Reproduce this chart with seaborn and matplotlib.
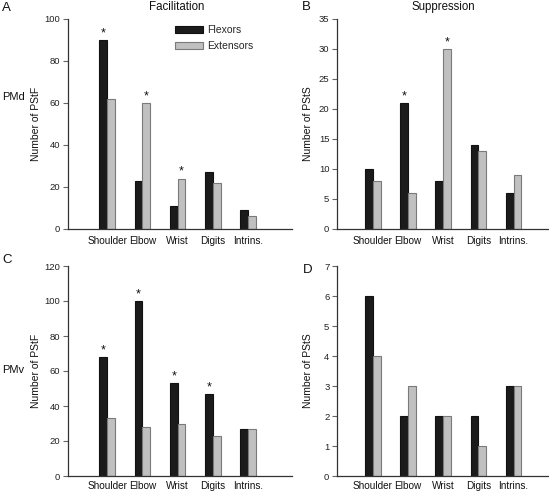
import matplotlib
matplotlib.use("Agg")
import matplotlib.pyplot as plt
import seaborn as sns
import pandas as pd
from matplotlib.patches import Patch

sns.set_style("ticks")
plt.rcParams['font.family'] = ['Liberation Sans', 'DejaVu Sans']

categories = ["Shoulder", "Elbow", "Wrist", "Digits", "Intrins."]
groups = ["Flexors", "Extensors"]

# Panel A: PMd facilitation
a_flex = [90, 23, 11, 27, 9]
a_ext = [62, 60, 24, 22, 6]
a_star_flex = [1, 0, 0, 0, 0]
a_star_ext = [0, 1, 1, 0, 0]
# Panel B: PMd suppression
b_flex = [10, 21, 8, 14, 6]
b_ext = [8, 6, 30, 13, 9]
b_star_flex = [0, 1, 0, 0, 0]
b_star_ext = [0, 0, 1, 0, 0]
# Panel C: PMv facilitation
c_flex = [68, 100, 53, 47, 27]
c_ext = [33, 28, 30, 23, 27]
c_star_flex = [1, 1, 1, 1, 0]
c_star_ext = [0, 0, 0, 0, 0]
# Panel D: PMv suppression
d_flex = [6, 2, 2, 2, 3]
d_ext = [4, 3, 2, 1, 3]
d_star_flex = [0, 0, 0, 0, 0]
d_star_ext = [0, 0, 0, 0, 0]

y_ticks_A = [0, 20, 40, 60, 80, 100]
y_ticks_B = [0, 5, 10, 15, 20, 25, 30, 35]
y_ticks_C = [0, 20, 40, 60, 80, 100, 120]
y_ticks_D = [0, 1, 2, 3, 4, 5, 6, 7]

flex_color = "#1b1b1b"
ext_color = "#c0c0c0"
flex_edge = "#111111"
ext_edge = "#7a7a7a"

W, H = 549, 493
fig = plt.figure(figsize=(W / 100, H / 100), dpi=100)

def axes_px(left, right, top, bottom):
    return fig.add_axes([left / W, 1 - bottom / H, (right - left) / W, (bottom - top) / H])

axA = axes_px(68, 292, 19, 229)
axB = axes_px(337, 548, 19, 229)
axC = axes_px(68, 292, 266, 476)
axD = axes_px(337, 548, 266, 476)

panels = [
    (axA, a_flex, a_ext, a_star_flex, a_star_ext, y_ticks_A, "Number of PStF", (-1.106, 5.24), 5),
    (axB, b_flex, b_ext, b_star_flex, b_star_ext, y_ticks_B, "Number of PStS", (-1.02, 4.98), 5),
    (axC, c_flex, c_ext, c_star_flex, c_star_ext, y_ticks_C, "Number of PStF", (-1.106, 5.24), 3.5),
    (axD, d_flex, d_ext, d_star_flex, d_star_ext, y_ticks_D, "Number of PStS", (-1.02, 4.98), 3.5),
]

for ax, flex, ext, sf, se, yt, ylab, xl, xpad in panels:
    df = pd.DataFrame({
        "category": categories * 2,
        "muscle": [groups[0]] * len(categories) + [groups[1]] * len(categories),
        "value": flex + ext,
    })
    sns.barplot(data=df, x="category", y="value", hue="muscle", order=categories,
                hue_order=groups, palette=[flex_color, ext_color], width=0.44,
                ax=ax, legend=False, saturation=1, errorbar=None)
    for cont, ec, stars in zip(ax.containers, [flex_edge, ext_edge], [sf, se]):
        for bar, s in zip(cont.patches, stars):
            bar.set_edgecolor(ec)
            bar.set_linewidth(0.8)
            if s:
                ax.annotate("*", (bar.get_x() + bar.get_width() / 2, bar.get_height()),
                            xytext=(0, 0.5), textcoords="offset points",
                            ha="center", va="bottom", fontsize=9, color="#111111")
    ax.set_xlim(*xl)
    ax.set_ylim(yt[0], yt[-1])
    ax.set_yticks(yt)
    ax.set_xlabel("")
    ax.set_ylabel(ylab, fontsize=7.5, color="#111111")
    ax.tick_params(axis="y", direction="out", length=3.5, width=0.8, color="#666666",
                   labelsize=6.8, pad=2, labelcolor="#222222")
    ax.tick_params(axis="x", length=0, labelsize=7.2, pad=xpad, labelcolor="#111111")
    for lbl in ax.get_xticklabels():
        lbl.set_fontsize(7.2)
    sns.despine(ax=ax)
    for sp in ["left", "bottom"]:
        ax.spines[sp].set_linewidth(0.9)
        ax.spines[sp].set_color("#333333")

axA.yaxis.set_label_coords(-0.122, 0.5)
axB.yaxis.set_label_coords(-0.112, 0.5)
axC.yaxis.set_label_coords(-0.122, 0.5)
axD.yaxis.set_label_coords(-0.112, 0.5)

handles = [Patch(facecolor=flex_color, edgecolor=flex_edge, linewidth=0.8, label="Flexors"),
           Patch(facecolor=ext_color, edgecolor=ext_edge, linewidth=0.8, label="Extensors")]
axA.legend(handles=handles, loc="upper left", bbox_to_anchor=(0.478, 0.97), frameon=False,
           fontsize=7.5, handlelength=2.7, handleheight=0.65, handletextpad=0.35,
           labelspacing=0.55, borderpad=0, borderaxespad=0)

fig.text(177 / W, 1 - 7 / H, "Facilitation", ha="center", va="center", fontsize=8.3, color="#111111")
fig.text(443 / W, 1 - 7 / H, "Suppression", ha="center", va="center", fontsize=8.3, color="#111111")

for lab, x, y in [("A", 2, 8), ("B", 302, 7), ("C", 2, 260), ("D", 303, 270)]:
    fig.text(x / W, 1 - y / H, lab, ha="left", va="center", fontsize=9.5, color="#111111")
fig.text(2 / W, 1 - 97 / H, "PMd", ha="left", va="center", fontsize=8, color="#111111")
fig.text(2 / W, 1 - 370 / H, "PMv", ha="left", va="center", fontsize=8, color="#111111")

fig.savefig("out.png", dpi=100)
